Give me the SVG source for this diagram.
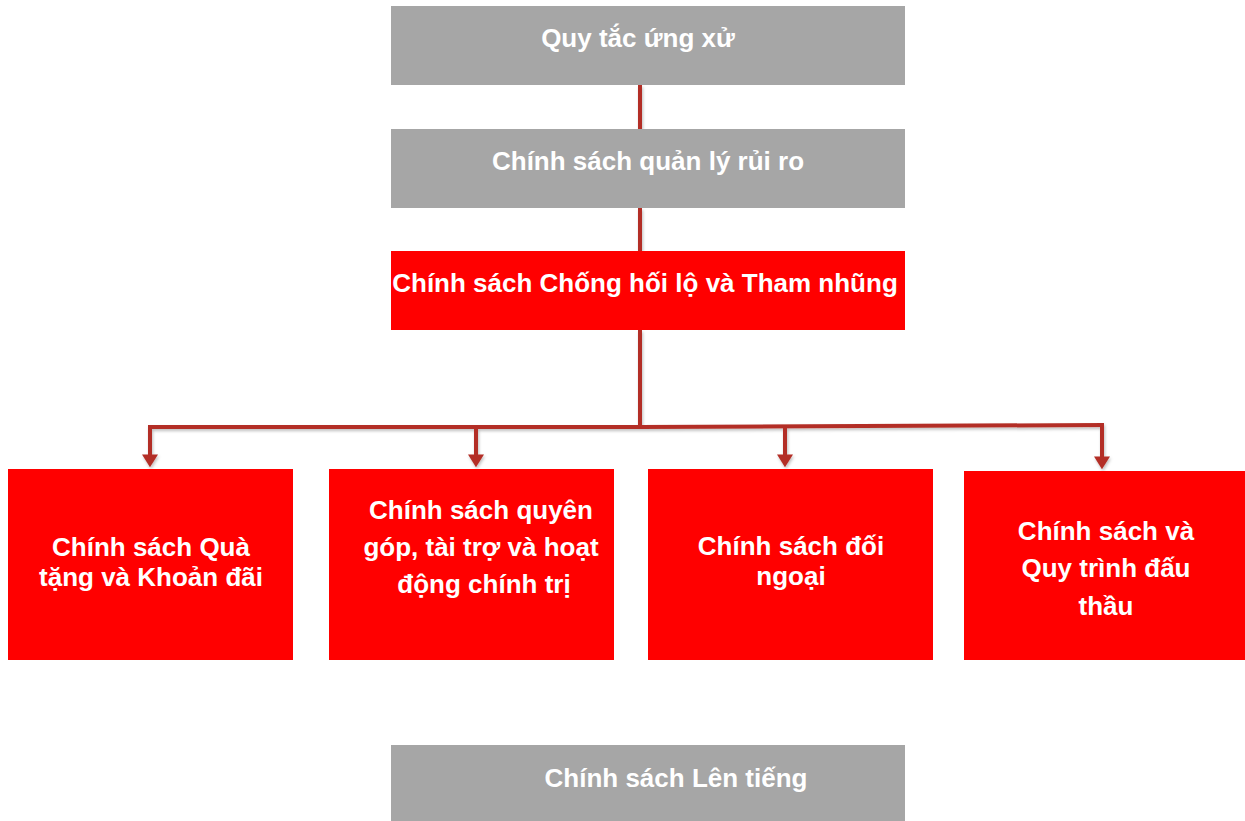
<svg xmlns="http://www.w3.org/2000/svg" width="1245" height="821" viewBox="0 0 1245 821">
<style>
.gray{fill:#a6a6a6}
.red{fill:#ff0000}
.t{font-family:"Liberation Sans",Arial,sans-serif;font-weight:bold;fill:#ffffff;text-anchor:middle;font-size:26px}
.line{stroke:#b32f26;stroke-width:4;fill:none}
</style>
<defs>
<marker id="arr" viewBox="0 0 10 10" refX="2" refY="5" markerWidth="3.2" markerHeight="4" orient="auto" markerUnits="strokeWidth" preserveAspectRatio="none">
<path d="M0,0 L10,5 L0,10 Z" fill="#b32f26"/>
</marker>
<filter id="sh" x="-5%" y="-5%" width="110%" height="120%">
<feDropShadow dx="1" dy="2" stdDeviation="1.5" flood-color="#000" flood-opacity="0.25"/>
</filter>
</defs>
<g id="connectors" filter="url(#sh)">
<line class="line" x1="640" y1="85" x2="640" y2="129"/>
<line class="line" x1="640" y1="208" x2="640" y2="251"/>
<line class="line" x1="640" y1="330" x2="640" y2="427"/>
<polyline class="line" points="148,427 640,427 1104,425"/>
<line class="line" x1="150" y1="427" x2="150" y2="457" marker-end="url(#arr)"/>
<line class="line" x1="476" y1="427" x2="476" y2="457" marker-end="url(#arr)"/>
<line class="line" x1="785" y1="426" x2="785" y2="457" marker-end="url(#arr)"/>
<line class="line" x1="1102" y1="425" x2="1102" y2="459" marker-end="url(#arr)"/>
</g>
<g id="n1"><rect class="gray" x="391" y="6" width="514" height="79"/><text class="t" x="638" y="47">Quy tắc ứng xử</text></g>
<g id="n2"><rect class="gray" x="391" y="129" width="514" height="79"/><text class="t" x="648" y="170">Chính sách quản lý rủi ro</text></g>
<g id="n3"><rect class="red" x="391" y="251" width="514" height="79"/><text class="t" x="645" y="292">Chính sách Chống hối lộ và Tham nhũng</text></g>
<g id="n4"><rect class="red" x="8" y="469" width="285" height="191"/><text class="t" x="151" y="556">Chính sách Quà</text><text class="t" x="151" y="586">tặng và Khoản đãi</text></g>
<g id="n5"><rect class="red" x="329" y="469" width="285" height="191"/><text class="t" x="481" y="519">Chính sách quyên</text><text class="t" x="481" y="556">góp, tài trợ và hoạt</text><text class="t" x="484" y="593">động chính trị</text></g>
<g id="n6"><rect class="red" x="648" y="469" width="285" height="191"/><text class="t" x="791" y="555">Chính sách đối</text><text class="t" x="791" y="585">ngoại</text></g>
<g id="n7"><rect class="red" x="964" y="471" width="281" height="189"/><text class="t" x="1106" y="540">Chính sách và</text><text class="t" x="1106" y="577">Quy trình đấu</text><text class="t" x="1106" y="615">thầu</text></g>
<g id="n8"><rect class="gray" x="391" y="745" width="514" height="76"/><text class="t" x="676" y="787">Chính sách Lên tiếng</text></g>
</svg>
